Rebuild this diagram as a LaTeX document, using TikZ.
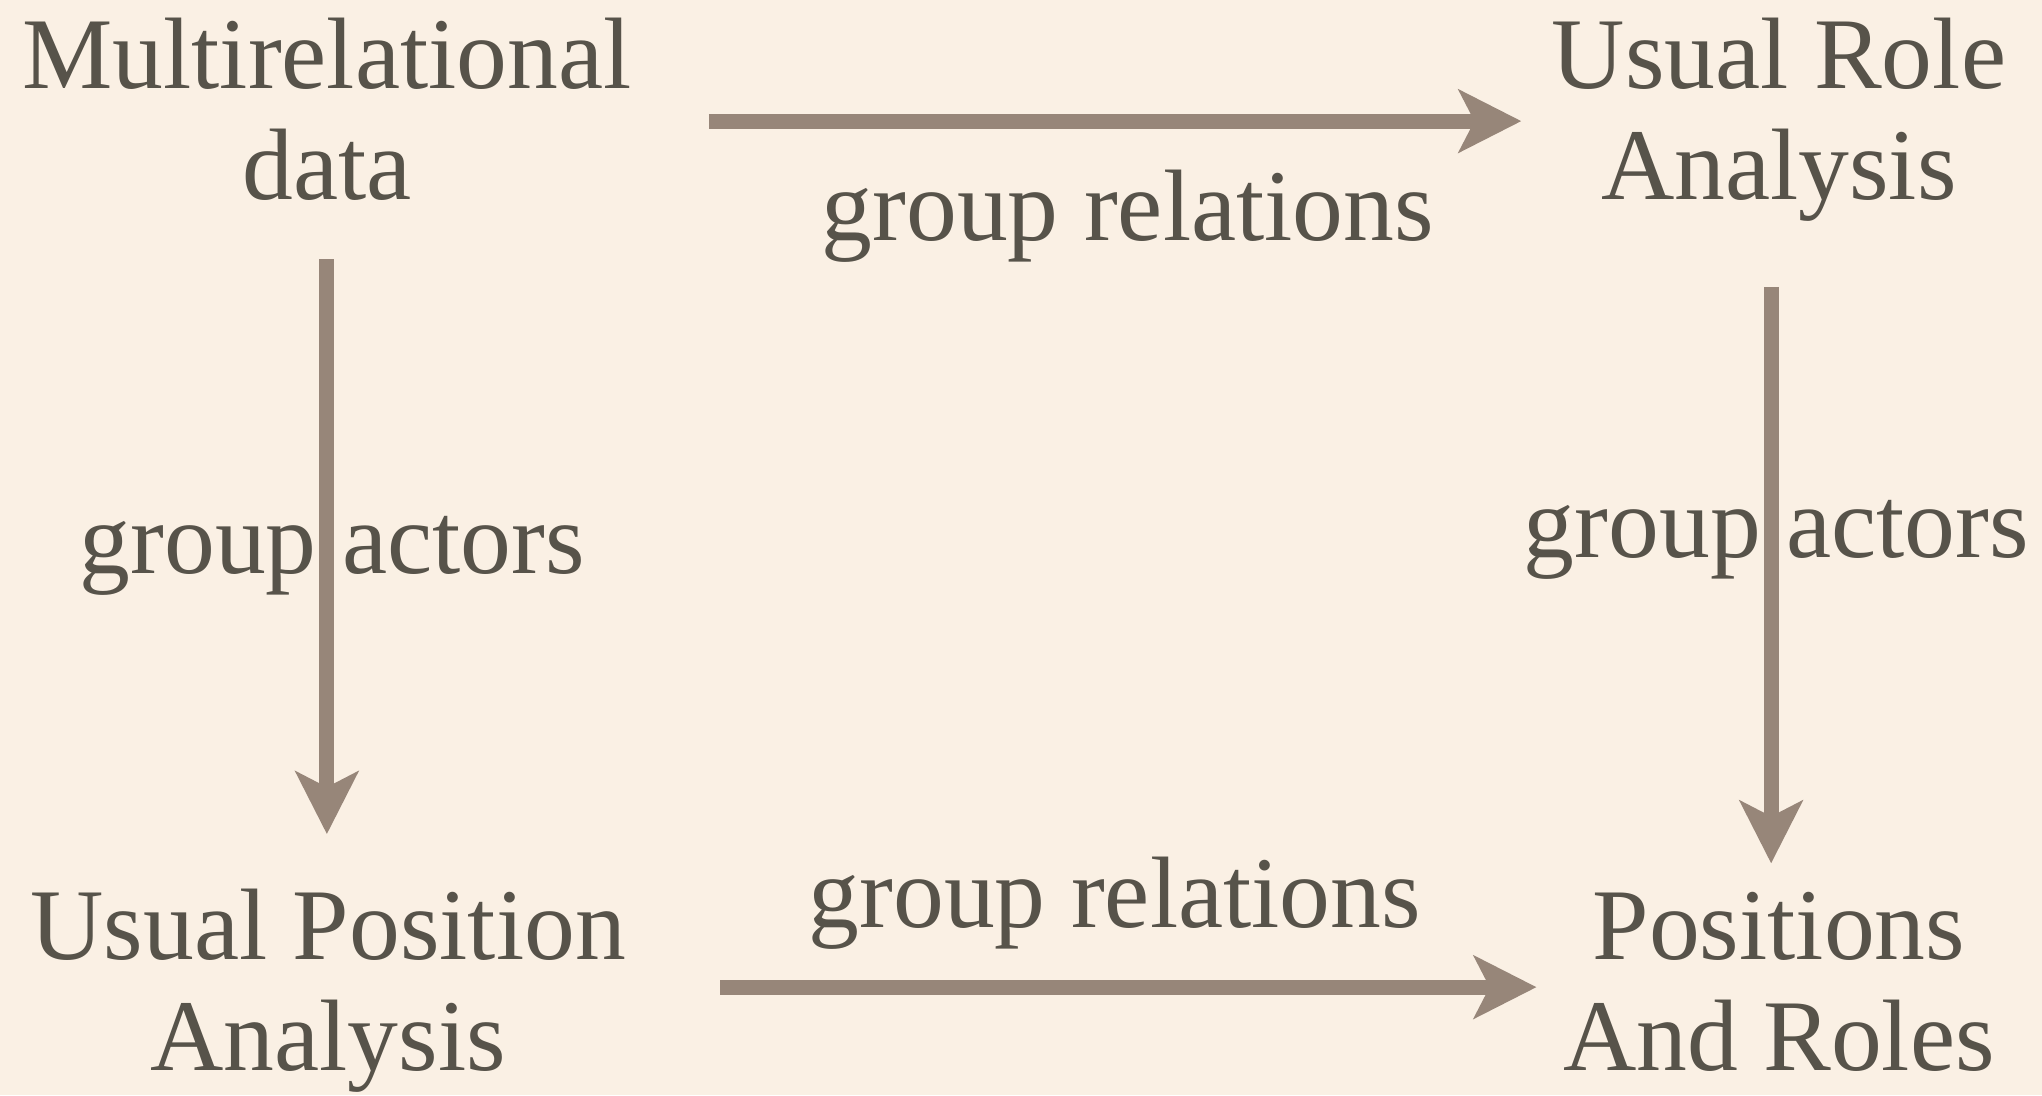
\documentclass[tikz,border=0pt]{standalone}
\usepackage{fontspec}
\setmainfont{Liberation Serif}
\usetikzlibrary{arrows.meta}
\definecolor{paper}{HTML}{FAF0E4}
\definecolor{ink}{HTML}{57534A}
\definecolor{arrowc}{HTML}{978679}
\begin{document}
\begin{tikzpicture}[x=0.5pt,y=-0.5pt,
  lbl/.style={text=ink, font=\fontsize{39}{42.5}\selectfont, inner sep=0pt, align=center, anchor=base},
  arr/.style={draw=arrowc, line width=5.8pt, -{Stealth[length=24pt,width=24pt,inset=6pt]}}]
\fill[paper] (0,0) rectangle (1568,841);
\useasboundingbox (0,0) rectangle (1568,841);

% the four stages of the analysis (anchored at the baseline of the last line)
\node[lbl] (multi) at (251,153)  {Multirelational\\data};
\node[lbl] (role)  at (1366,153) {Usual Role\\Analysis};
\node[lbl] (pos)   at (252,822)  {Usual Position\\Analysis};
\node[lbl] (pr)    at (1366,822) {Positions\\And Roles};

% operations between them
\node[lbl] (grtop) at (866,185) {group relations};
\node[lbl] (gabot) at (856,712) {group relations};
\node[lbl] (galeft) at (255,440) {group actors};
\node[lbl] (garight) at (1364,428) {group actors};

% connectors
\draw[arr, shorten <=29.5pt, shorten >=11.5pt] (multi.east |- 0,93) -- (role.west |- 0,93);
\draw[arr, shorten <=36pt, shorten >=10pt] (pos.east |- 0,758) -- (pr.west |- 0,758);
\draw[arr, shorten <=22.5pt, shorten >=21pt] (multi.south) -- (multi.south |- pos.north);
\draw[arr, shorten <=25pt, shorten >=11pt] (role.south -| 1360,0) -- (pr.north -| 1360,0);
\end{tikzpicture}
\end{document}
